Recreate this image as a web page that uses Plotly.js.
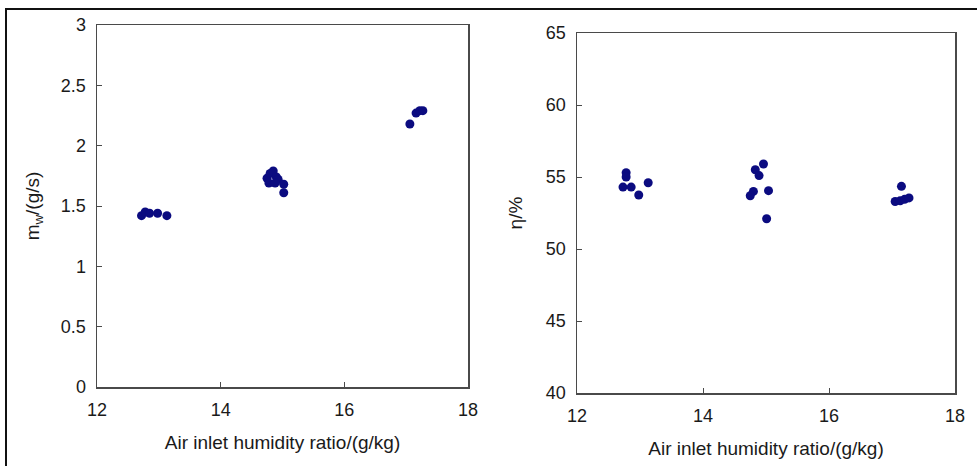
<!DOCTYPE html>
<html>
<head>
<meta charset="utf-8">
<script src="https://cdn.plot.ly/plotly-3.0.1.min.js"></script>
<style>
  html, body { margin: 0; padding: 0; background: #fff; }
  #chart { width: 977px; height: 466px; }
</style>
</head>
<body>
<div id="chart"></div>
<script>
// Air inlet humidity ratio (g/kg) against water production rate
const humidityMw = [12.72, 12.78, 12.85, 12.98, 13.13,
                    14.75, 14.80, 14.85, 14.90, 14.93, 14.78, 14.88, 15.02, 15.02,
                    17.06, 17.16, 17.22, 17.27];
const waterRate  = [1.42, 1.45, 1.44, 1.44, 1.42,
                    1.73, 1.77, 1.79, 1.74, 1.72, 1.69, 1.69, 1.68, 1.61,
                    2.18, 2.27, 2.29, 2.29];

// Air inlet humidity ratio (g/kg) against efficiency
const humidityEta = [12.78, 12.78, 12.73, 12.86, 12.98, 13.13,
                     14.96, 14.83, 14.89, 14.80, 14.75, 15.04, 15.01,
                     17.05, 17.13, 17.20, 17.27, 17.15];
const efficiency  = [55.3, 55.0, 54.3, 54.3, 53.75, 54.6,
                     55.9, 55.5, 55.1, 54.0, 53.7, 54.05, 52.1,
                     53.3, 53.35, 53.45, 53.55, 54.35];

const xTicks = [12, 14, 16, 18];
const mwTicks = [0, 0.5, 1, 1.5, 2, 2.5, 3];
const etaTicks = [40, 45, 50, 55, 60, 65];

const W = 977, H = 466;
const font = { family: '"Liberation Sans", Arial, sans-serif', color: '#1a1a1a' };
const markerStyle = { color: '#0b0b80', size: 9, line: { width: 0 } };

function axisBase(extra) {
  return Object.assign({
    showline: true, linecolor: '#4a4a4a', linewidth: 1.5, mirror: true,
    ticks: 'inside', ticklen: 5, tickwidth: 1, tickcolor: '#4a4a4a',
    showgrid: false, zeroline: false, automargin: false,
    tickfont: Object.assign({ size: 18 }, font)
  }, extra);
}

const traces = [
  { x: humidityMw, y: waterRate, type: 'scatter', mode: 'markers',
    marker: markerStyle, xaxis: 'x', yaxis: 'y', hoverinfo: 'skip' },
  { x: humidityEta, y: efficiency, type: 'scatter', mode: 'markers',
    marker: markerStyle, xaxis: 'x2', yaxis: 'y2', hoverinfo: 'skip' }
];

const layout = {
  width: W, height: H,
  margin: { l: 0, r: 0, t: 0, b: 0 },
  paper_bgcolor: '#fff', plot_bgcolor: '#fff',
  showlegend: false,
  font: font,
  xaxis: axisBase({
    domain: [97 / W, 468 / W], anchor: 'y', range: [12, 18],
    tickvals: xTicks, ticktext: xTicks.map(String), ticklabelstandoff: 6,
    title: { text: 'Air inlet humidity ratio/(g/kg)', font: Object.assign({ size: 19 }, font), standoff: 16 }
  }),
  yaxis: axisBase({
    domain: [1 - 387 / H, 1 - 25 / H], anchor: 'x', range: [0, 3],
    tickvals: mwTicks, ticktext: mwTicks.map(String), ticklabelstandoff: 6,
    title: { text: 'm<sub>w</sub>/(g/s)', font: Object.assign({ size: 19 }, font), standoff: 16 }
  }),
  xaxis2: axisBase({
    domain: [577 / W, 955 / W], anchor: 'y2', range: [12, 18],
    tickvals: xTicks, ticktext: xTicks.map(String), ticklabelstandoff: 6,
    title: { text: 'Air inlet humidity ratio/(g/kg)', font: Object.assign({ size: 19 }, font), standoff: 16 }
  }),
  yaxis2: axisBase({
    domain: [1 - 393 / H, 1 - 33 / H], anchor: 'x2', range: [40, 65],
    tickvals: etaTicks, ticktext: etaTicks.map(String), ticklabelstandoff: 6,
    title: { text: 'η/%', font: Object.assign({ size: 19 }, font), standoff: 18 }
  }),
  shapes: [
    // outer frame around the figure
    { type: 'rect', xref: 'paper', yref: 'paper',
      x0: 6 / W, x1: 1.05, y0: -0.05, y1: 1 - 9 / H,
      line: { color: '#111', width: 2 }, fillcolor: 'rgba(0,0,0,0)' }
  ]
};

Plotly.newPlot('chart', traces, layout, { staticPlot: true, displayModeBar: false });
</script>
</body>
</html>
